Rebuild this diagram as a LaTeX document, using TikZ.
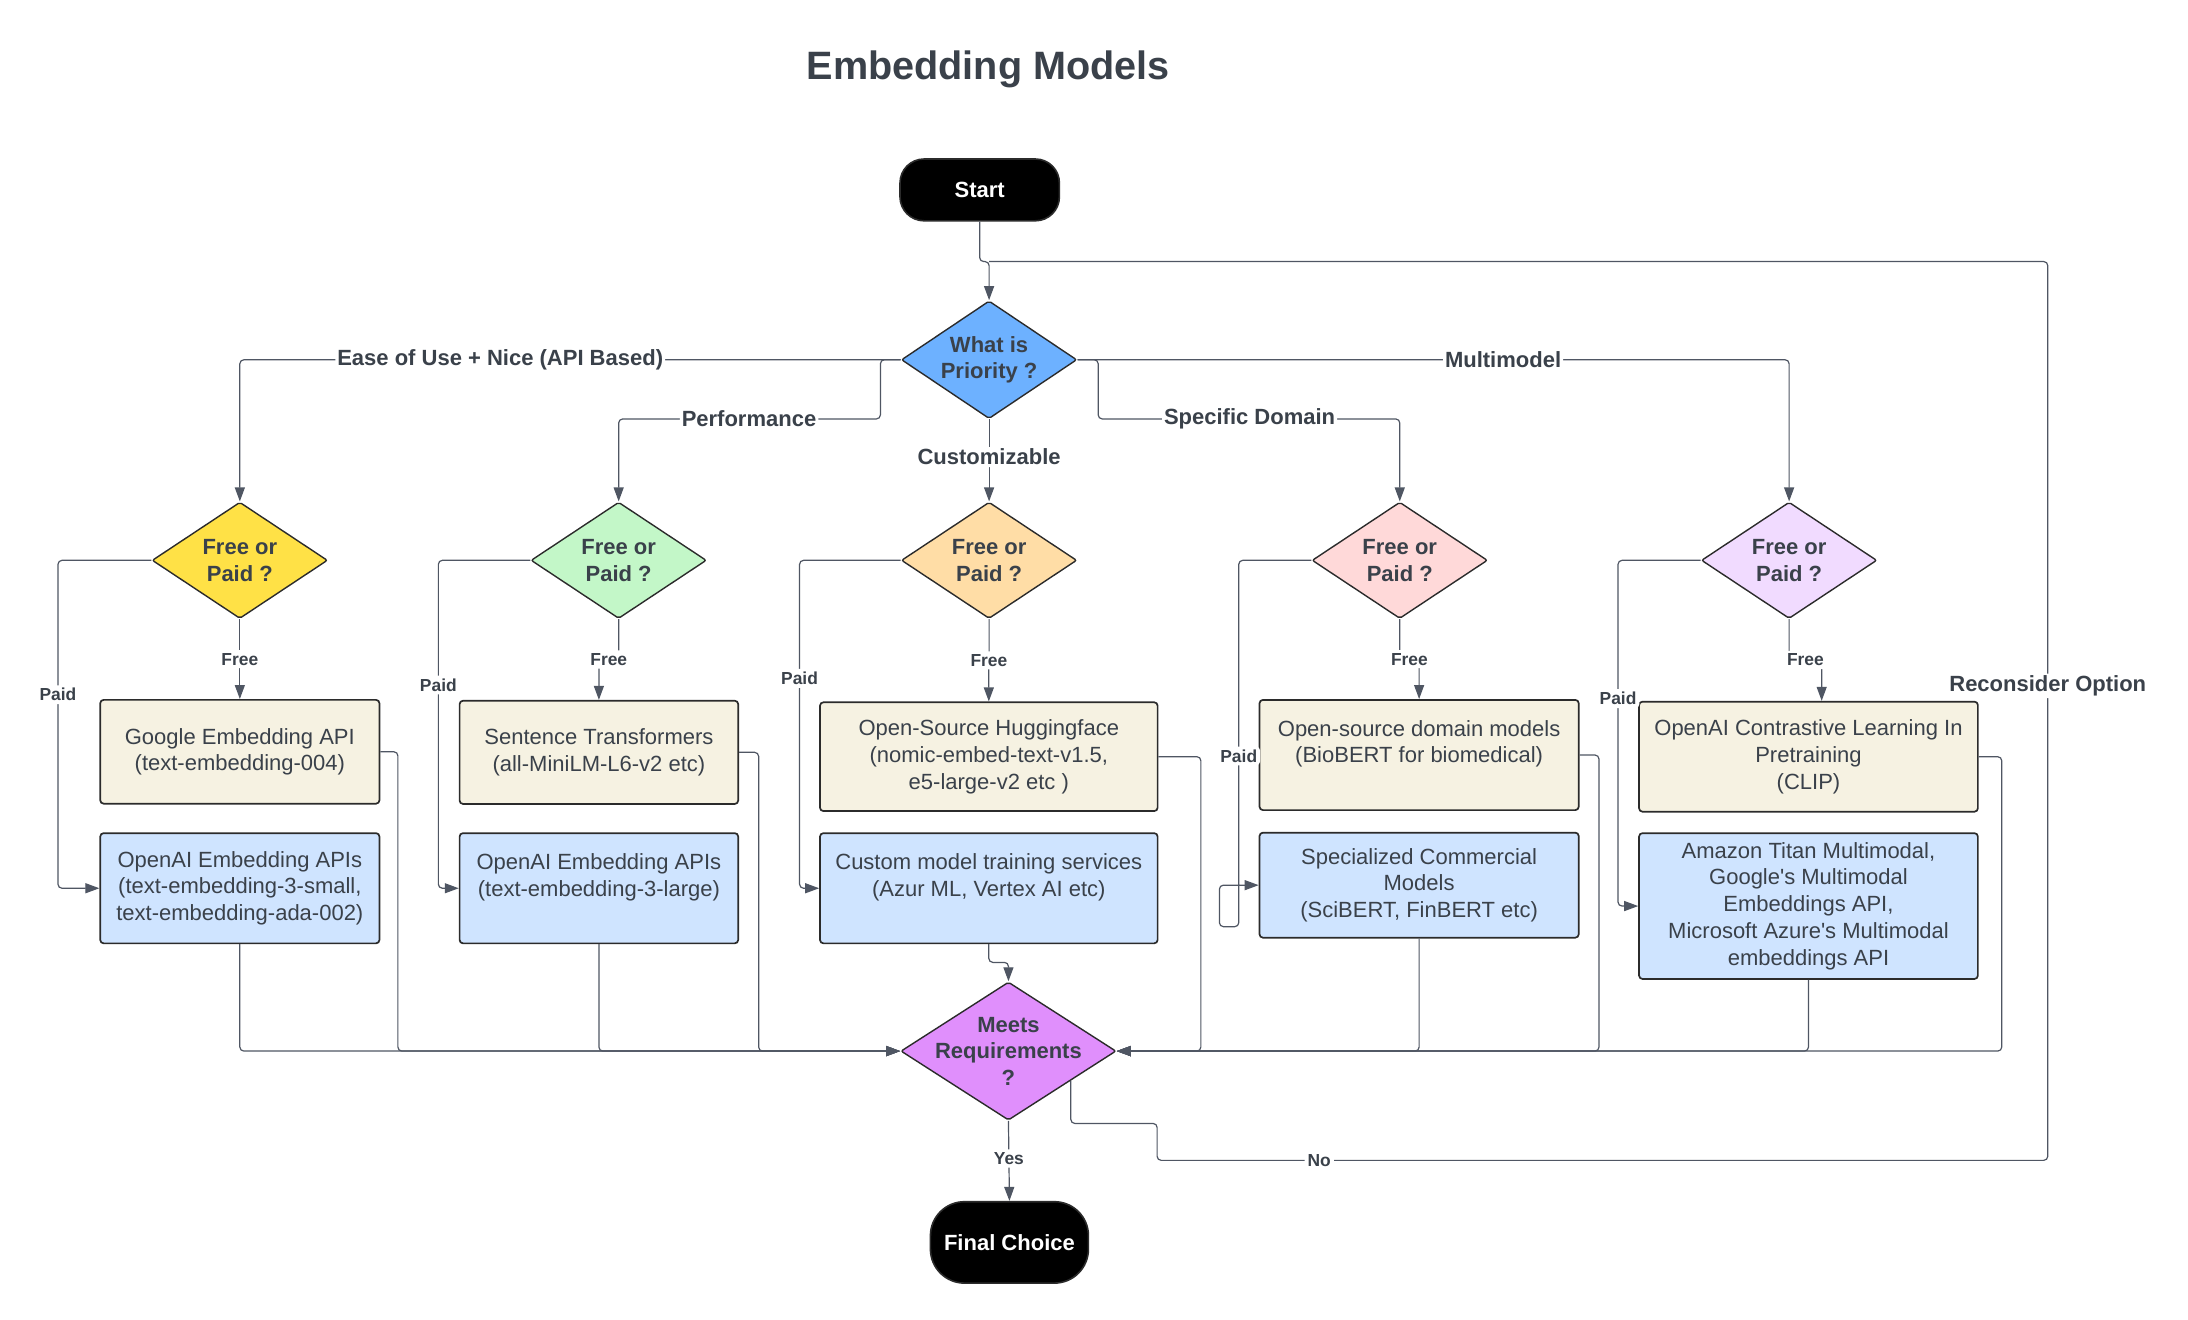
\documentclass[tikz,border=0pt]{standalone}
\usepackage{fontspec}
\setmainfont{Liberation Sans}
\usetikzlibrary{shapes.geometric,arrows.meta,calc}
\definecolor{ink}{HTML}{3A414A}
\definecolor{wire}{HTML}{4F5663}
\definecolor{edgeblk}{HTML}{2B2B2B}
\definecolor{cream}{HTML}{F6F2E2}
\definecolor{skyblue}{HTML}{CFE4FF}
\definecolor{prioblue}{HTML}{6DB1FF}
\definecolor{fpyellow}{HTML}{FFE146}
\definecolor{fpgreen}{HTML}{C3F7C8}
\definecolor{fporange}{HTML}{FFDDA6}
\definecolor{fppink}{HTML}{FFD9D9}
\definecolor{fplilac}{HTML}{F1DBFF}
\definecolor{meetpurple}{HTML}{E08FFC}

\begin{document}
\begin{tikzpicture}[x=0.7013pt,y=-0.7013pt]
	\tikzstyle{heading}=[text=ink, font=\fontsize{19.8}{24}\selectfont\bfseries]
	\tikzstyle{terminal}=[rectangle, rounded corners=12pt, fill=black, draw=edgeblk, line width=0.8pt, text=white, font=\fontsize{11}{13}\selectfont\bfseries, minimum width=79.7pt, minimum height=30.9pt]
	\tikzstyle{decision}=[diamond, aspect=1.5, draw=edgeblk, line width=0.7pt, rounded corners=1pt, inner sep=0pt, align=center, text=ink, font=\fontsize{11}{13.3}\selectfont\bfseries, minimum width=87.7pt, minimum height=58.2pt]
	\tikzstyle{box}=[rectangle, rounded corners=1.7pt, draw=edgeblk, line width=0.85pt, inner sep=2pt, align=center, text=ink, font=\fontsize{11}{13.4}\selectfont]
	\tikzstyle{freebox}=[box, fill=cream]
	\tikzstyle{paidbox}=[box, fill=skyblue]
	\tikzstyle{connect}=[draw=wire, line width=0.6pt, rounded corners=2pt, -{Triangle[length=7pt,width=5pt]}]
	\tikzstyle{joinline}=[draw=wire, line width=0.6pt, rounded corners=2pt]
	\tikzstyle{lab}=[fill=white, text=ink, inner sep=1pt, font=\fontsize{11}{13}\selectfont\bfseries]
	\tikzstyle{smalllab}=[fill=white, text=ink, inner sep=1.5pt, font=\fontsize{8.7}{10}\selectfont\bfseries]
	\useasboundingbox (0,0) rectangle (1560,941);

	\node[heading] (title) at (704.5,49.4) {Embedding Models};
	\node[terminal] (start) at (698.5,135.4) {Start};
	\node[decision, fill=prioblue, minimum height=58.9pt] (prio) at (705.2,256.5) {What is\\Priority ?};

	% free or paid, one per priority
	\node[decision, fill=fpyellow] (fp1) at (171,399.5) {Free or\\Paid ?};
	\node[decision, fill=fpgreen] (fp2) at (441.1,399.5) {Free or\\Paid ?};
	\node[decision, fill=fporange] (fp3) at (705.2,399.5) {Free or\\Paid ?};
	\node[decision, fill=fppink] (fp4) at (998,399.5) {Free or\\Paid ?};
	\node[decision, fill=fplilac] (fp5) at (1275.6,399.5) {Free or\\Paid ?};

	\node[freebox, minimum width=139.6pt, minimum height=51.9pt] (t1) at (171,536) {Google Embedding API\\(text-embedding-004)};
	\node[paidbox, minimum width=139.6pt, minimum height=55.1pt] (b1) at (171,633.3) {OpenAI Embedding APIs\\(text-embedding-3-small,\\text-embedding-ada-002)};
	\node[freebox, minimum width=139.3pt, minimum height=51.6pt] (t2) at (427,536.4) {Sentence Transformers\\(all-MiniLM-L6-v2 etc)};
	\node[paidbox, minimum width=139.3pt, minimum height=55.1pt] (b2) at (427,633.3) {OpenAI Embedding APIs\\(text-embedding-3-large)\\\mbox{}};
	\node[freebox, minimum width=168.8pt, minimum height=54.4pt] (t3) at (705,539.5) {Open-Source Huggingface\\(nomic-embed-text-v1.5,\\e5-large-v2 etc )};
	\node[paidbox, minimum width=168.8pt, minimum height=55.1pt] (b3) at (705,633.3) {Custom model training services\\(Azur ML, Vertex AI etc)\\\mbox{}};
	\node[freebox, minimum width=159.6pt, minimum height=55.1pt] (t4) at (1011.8,538.3) {Open-source domain models\\(BioBERT for biomedical)\\\mbox{}};
	\node[paidbox, minimum width=159.6pt, minimum height=52.5pt] (b4) at (1011.8,631.1) {Specialized Commercial\\Models\\(SciBERT, FinBERT etc)};
	\node[freebox, minimum width=169.4pt, minimum height=55pt] (t5) at (1289.4,539.5) {OpenAI Contrastive Learning In\\Pretraining\\(CLIP)};
	\node[paidbox, minimum width=169.4pt, minimum height=72.9pt] (b5) at (1289.4,646) {Amazon Titan Multimodal,\\Google\textquotesingle s Multimodal\\Embeddings API,\\Microsoft Azure\textquotesingle s Multimodal\\embeddings API};

	\node[decision, fill=meetpurple, inner sep=-12pt, minimum width=107.6pt, minimum height=69.1pt] (meets) at (719,749.4) {Meets\\Requirements\\?};
	\node[terminal, minimum width=79pt, minimum height=40.7pt, rounded corners=17pt] (final) at (719.7,885.8) {Final Choice};

	\coordinate (jn) at (705.2,186.5);
	\coordinate (perf) at (627.7,298.7);
	\coordinate (spec) at (783,298.7);
	\coordinate (p4a) at (883.2,660.7);
	\coordinate (p4b) at (869.4,631.1);
	\coordinate (noA) at (825,801);
	\coordinate (loopR) at (1460,827.3);
	\coordinate (nost) at ($(meets.east)!0.424!(meets.south)$);

	\draw[connect] (start.south) |- (jn) -- (prio.north);
	\draw[connect] (prio.west) -| node[lab, pos=0.303] {Ease of Use + Nice (API Based)} (fp1.north);
	\draw[connect] (prio.west) -| (perf) -| node[lab, pos=0.251] {Performance} (fp2.north);
	\draw[connect] (prio.south) -- node[lab, pos=0.46] {Customizable} (fp3.north);
	\draw[connect] (prio.east) -| (spec) -| node[lab, pos=0.251] {Specific Domain} (fp4.north);
	\draw[connect] (prio.east) -| node[lab, pos=0.299] {Multimodel} (fp5.north);

	% free branches
	\foreach \i/\dx in {1/0,2/0,3/0,4/0,5/6.6}
		\draw[connect] (fp\i.south) |- ($(fp\i.south)!.5!([xshift=\dx pt]t\i.north)$) node[smalllab] {Free} -| ([xshift=\dx pt]t\i.north);

	% paid branches
	\draw[connect] (fp1.west) -| node[smalllab, pos=0.705] {Paid} ([xshift=-20.7pt]b1.west) -- (b1.west);
	\draw[connect] (fp2.west) -| node[smalllab, pos=0.69] {Paid} ([xshift=-10.2pt]b2.west) -- (b2.west);
	\draw[connect] (fp3.west) -| node[smalllab, pos=0.68] {Paid} ([xshift=-9.8pt]b3.west) -- (b3.west);
	\draw[connect] (fp4.west) -| node[smalllab, pos=0.767] {Paid} (p4a) -| (p4b) -- (b4.west);
	\draw[connect] (fp5.west) -| node[smalllab, pos=0.70] {Paid} ([xshift=-10.1pt]b5.west) -- (b5.west);

	% everything runs into the check
	\foreach \n/\s/\side in {t1/8.8/west, t2/9.8/west, t3/21.2/east, t4/9.7/east, t5/11.5/east}
		\draw[connect] (\n.east) -- ++(\s pt,0) |- (meets.\side);
	\foreach \n/\side in {b1/west, b2/west, b4/east, b5/east}
		\draw[connect] (\n.south) |- (meets.\side);
	\draw[connect] (b3.south) -- ++(0,-9.1pt) -| (meets.north);

	\draw[connect] (meets.south) -- node[smalllab, pos=0.47] {Yes} (final.north);
	\draw[joinline] (nost) |- (noA) |- node[smalllab, pos=0.591] {No} (loopR) |- node[lab, pos=0.264] {Reconsider Option} (jn);
\end{tikzpicture}
\end{document}
